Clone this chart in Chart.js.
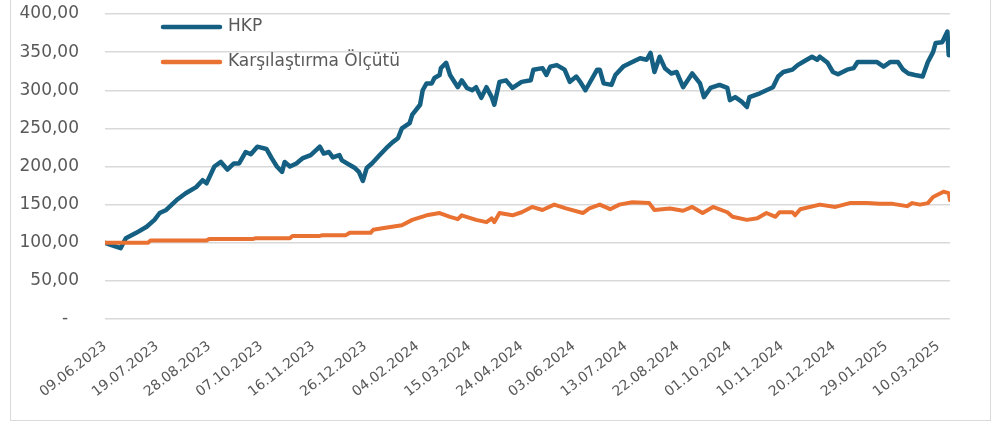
<!DOCTYPE html>
<html lang="tr">
<head>
<meta charset="utf-8">
<title>HKP - Karşılaştırma Ölçütü</title>
<script src="https://cdn.jsdelivr.net/npm/chart.js@4.4.1/dist/chart.umd.min.js"></script>
<style>
  html, body { margin: 0; padding: 0; background: #fff; }
  #wrap { position: relative; width: 994px; height: 425px; overflow: hidden; }
  #frame {
    position: absolute; left: 10px; top: -2px; width: 981px; height: 423px;
    border: 1.5px solid #d9d9d9; box-sizing: border-box;
  }
  #chart { position: absolute; left: 0; top: 0; }
</style>
</head>
<body>
<div id="wrap">
  <div id="frame"></div>
  <canvas id="chart" width="994" height="425"></canvas>
</div>
<script>
// day 0 = 09.06.2023
const startDate = Date.UTC(2023, 5, 9);
const seriesNames = ['HKP', 'Karşılaştırma Ölçütü'];

const hkpDays = [
  0, 5, 12, 16, 24, 32, 38, 42, 47, 55, 62, 70, 75, 78, 84, 89, 94, 99, 103, 108,
  112, 117, 124, 128, 132, 136, 138, 142, 147, 152, 158, 165, 168, 172, 175, 180, 182, 188, 192, 195,
  198, 201, 205, 211, 216, 221, 225, 228, 234, 236, 242, 244, 247, 251, 253, 257, 258, 262, 265, 271,
  274, 278, 282, 285, 289, 293, 297, 299, 303, 308, 313, 320, 327, 329, 336, 339, 342, 347, 353, 357,
  362, 365, 369, 378, 380, 383, 389, 392, 398, 405, 411, 416, 419, 422, 426, 430, 435, 439, 444, 451,
  457, 460, 465, 472, 478, 480, 484, 489, 493, 495, 503, 508, 513, 517, 521, 528, 532, 536, 543, 547,
  549, 555, 559, 563, 570, 575, 578, 585, 593, 598, 603, 609, 613, 617, 622, 628, 632, 636, 638, 643,
  647, 648
];
const hkpValues = [
  100, 97, 93, 106, 113, 121, 130, 139, 143, 156, 165, 173, 182, 178, 200, 206, 196, 204, 204, 219,
  216, 226, 223, 211, 200, 193, 206, 200, 204, 211, 215, 226, 217, 219, 212, 215, 208, 202, 198, 193,
  181, 198, 204, 215, 224, 232, 237, 250, 257, 268, 281, 300, 309, 309, 316, 320, 329, 336, 320, 304,
  313, 303, 300, 304, 290, 304, 291, 281, 311, 313, 303, 311, 313, 327, 329, 320, 331, 333, 327, 311,
  318, 311, 300, 327, 327, 309, 307, 320, 331, 337, 342, 340, 349, 324, 344, 329, 322, 324, 304, 322,
  309, 291, 303, 307, 303, 287, 291, 285, 278, 291, 296, 300, 304, 318, 324, 327, 333, 337, 344, 340,
  344, 336, 324, 321, 327, 329, 337, 337, 337, 331, 337, 337, 327, 322, 320, 318, 337, 350, 362, 363,
  377, 346
];

const benchDays = [
  0, 33, 35, 78, 80, 114, 116, 142, 144, 165, 167, 185, 188, 204, 206, 213, 228, 236, 247, 257,
  265, 271, 274, 285, 293, 297, 299, 303, 313, 320, 328, 336, 345, 354, 367, 372, 380, 388, 395, 405,
  418, 422, 434, 444, 451, 459, 467, 478, 482, 493, 501, 508, 515, 518, 528, 530, 534, 549, 561, 572,
  585, 595, 605, 616, 620, 626, 632, 636, 644, 648, 649
];
const benchValues = [
  100, 100, 103, 103, 105, 105, 106, 106, 109, 109, 110, 110, 113, 113, 117, 119, 123, 130, 136, 139,
  134, 131, 136, 130, 127, 132, 127, 139, 136, 140, 147, 143, 150, 145, 139, 145, 150, 144, 150, 153,
  152, 143, 145, 142, 147, 139, 147, 140, 134, 130, 132, 139, 134, 140, 140, 136, 144, 150, 147, 152,
  152, 151, 151, 148, 152, 150, 152, 160, 167, 165, 156
];

const axisText = '#595959';
const gridColor = '#d9d9d9';

function toPoints(days, values) {
  return days.map((d, i) => ({ x: d, y: values[i] }));
}

function formatDate(day) {
  const d = new Date(startDate + day * 86400000);
  const dd = String(d.getUTCDate()).padStart(2, '0');
  const mm = String(d.getUTCMonth() + 1).padStart(2, '0');
  return dd + '.' + mm + '.' + d.getUTCFullYear();
}

// legend drawn inside the plot, top left, like the original sheet
const lineLegend = {
  id: 'lineLegend',
  afterDatasetsDraw(chart) {
    const ctx = chart.ctx;
    const left = chart.chartArea.left + 58;
    chart.data.datasets.forEach((ds, i) => {
      const y = chart.chartArea.top + 13 + i * 35;
      ctx.save();
      ctx.strokeStyle = ds.borderColor;
      ctx.lineWidth = 4.5;
      ctx.lineCap = 'round';
      ctx.beginPath();
      ctx.moveTo(left, y);
      ctx.lineTo(left + 57, y);
      ctx.stroke();
      ctx.fillStyle = axisText;
      ctx.font = '17px "DejaVu Sans"';
      ctx.textBaseline = 'middle';
      ctx.fillText(ds.label, left + 65, y);
      ctx.restore();
    });
  }
};

new Chart(document.getElementById('chart').getContext('2d'), {
  type: 'line',
  data: {
    datasets: [
      {
        label: seriesNames[0],
        data: toPoints(hkpDays, hkpValues),
        borderColor: '#156082',
        borderWidth: 4.5,
        order: 2
      },
      {
        label: seriesNames[1],
        data: toPoints(benchDays, benchValues),
        borderColor: '#e97132',
        borderWidth: 4,
        order: 1
      }
    ]
  },
  options: {
    responsive: false,
    devicePixelRatio: 1,
    animation: false,
    layout: { padding: { left: 10, right: 44, top: 14, bottom: 0 } },
    elements: {
      point: { radius: 0 },
      line: { tension: 0, borderJoinStyle: 'round', borderCapStyle: 'round' }
    },
    plugins: {
      legend: { display: false },
      tooltip: { enabled: false }
    },
    scales: {
      x: {
        type: 'linear',
        min: 0,
        max: 649,
        grid: { display: false },
        border: { display: false },
        ticks: {
          stepSize: 40,
          includeBounds: false,
          autoSkip: false,
          minRotation: 38,
          maxRotation: 38,
          padding: 11,
          color: axisText,
          font: { family: 'DejaVu Sans', size: 14 },
          callback: v => formatDate(v)
        },
        afterFit: s => {
          s.height = 106;
          s.paddingLeft = 0;
          s.paddingRight = 0;
          s.paddingTop = 0;
          s.paddingBottom = 0;
        }
      },
      y: {
        min: 0,
        max: 400,
        grid: { color: gridColor, lineWidth: 1.5, drawTicks: false },
        border: { display: false },
        ticks: {
          stepSize: 50,
          padding: 26,
          color: axisText,
          font: { family: 'DejaVu Sans', size: 17 },
          callback: v => v === 0 ? '-  ' : v.toFixed(2).replace('.', ',')
        },
        afterFit: s => {
          s.width = 95;
          s.paddingTop = 0;
          s.paddingBottom = 0;
        }
      }
    }
  },
  plugins: [lineLegend]
});
</script>
</body>
</html>
